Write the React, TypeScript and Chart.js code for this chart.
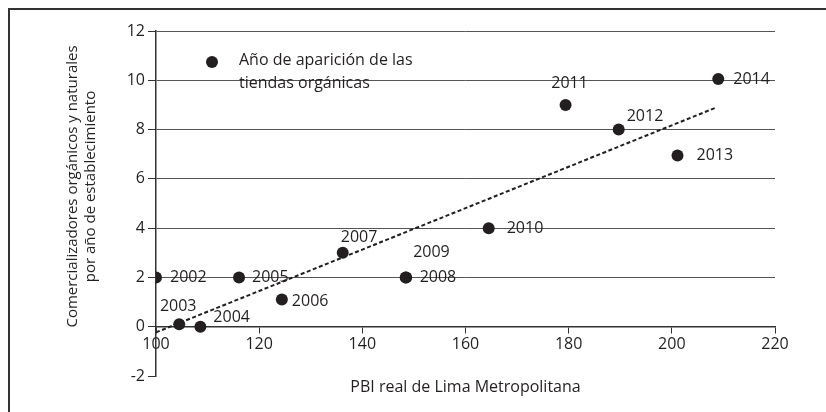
import React, { useEffect, useRef } from "react";
import { Chart, registerables } from "chart.js";

Chart.register(...registerables);

const years = ["2002", "2003", "2004", "2005", "2006", "2007", "2008", "2009", "2010", "2011", "2012", "2013", "2014"];
const pbi = [100, 104.5, 108.6, 116.1, 124.4, 136.2, 148.4, 148.5, 164.5, 179.4, 189.7, 201.1, 209];
const stores = [2, 0.1, 0, 2, 1.1, 3, 2, 2, 4, 9, 8, 6.95, 10.05];
const trendX = [100, 208.3];
const trendY = [-0.23, 8.87];
const xTicks = [100, 120, 140, 160, 180, 200, 220];
const yTicks = [-2, 0, 2, 4, 6, 8, 10, 12];

const yTitleLines = ["Comercializadores orgánicos y naturales", "por año de establecimiento"];
const xTitle = "PBI real de Lima Metropolitana";
const legendLines = ["Año de aparición de las", "tiendas orgánicas"];

// label placement (style, not data)
const labelPlacement: { dx: number; dy: number; align: CanvasTextAlign }[] = [
  { dx: 14, dy: 0, align: "left" },
  { dx: -1, dy: -18, align: "center" },
  { dx: 13, dy: -9, align: "left" },
  { dx: 13, dy: 0, align: "left" },
  { dx: 10, dy: 2, align: "left" },
  { dx: -2, dy: -15, align: "left" },
  { dx: 14, dy: 0, align: "left" },
  { dx: 7, dy: -25, align: "left" },
  { dx: 18, dy: 0, align: "left" },
  { dx: 4, dy: -21, align: "center" },
  { dx: 8, dy: -13, align: "left" },
  { dx: 19, dy: 0, align: "left" },
  { dx: 15, dy: 0, align: "left" },
];

const FONT = "'Open Sans', 'DejaVu Sans', sans-serif";
const TEXT = "#231f20";
const FS = 16;
const FS_Y = 15;

const overlay = {
  id: "overlay",
  beforeDraw(chart: any) {
    const ctx = chart.ctx;
    ctx.save();
    ctx.strokeStyle = "#333";
    ctx.lineWidth = 2;
    ctx.strokeRect(9, 9, 900, 900);
    ctx.restore();
  },
  afterDraw(chart: any) {
    const ctx = chart.ctx;
    const area = chart.chartArea;
    ctx.save();
    ctx.fillStyle = TEXT;
    ctx.font = `${FS}px ${FONT}`;
    ctx.textBaseline = "middle";
    // point labels
    const meta = chart.getDatasetMeta(0);
    meta.data.forEach((pt: any, i: number) => {
      const p = labelPlacement[i];
      ctx.textAlign = p.align;
      ctx.fillText(years[i], pt.x + p.dx, pt.y + p.dy);
    });
    // legend
    ctx.beginPath();
    ctx.arc(area.left + 56, area.top + 31, 6, 0, Math.PI * 2);
    ctx.fill();
    ctx.textAlign = "left";
    ctx.fillText(legendLines[0], area.left + 83, area.top + 29);
    ctx.fillText(legendLines[1], area.left + 83, area.top + 52);
    // x title
    ctx.textAlign = "center";
    ctx.fillText(xTitle, (area.left + area.right) / 2, area.bottom + 11);
    // y title
    ctx.font = `${FS_Y}px ${FONT}`;
    const cy = (area.top + area.bottom) / 2 - 17;
    ctx.save();
    ctx.translate(area.left - 83, cy);
    ctx.rotate(-Math.PI / 2);
    ctx.fillText(yTitleLines[0], 0, 0);
    ctx.fillText(yTitleLines[1], 0, 18);
    ctx.restore();
    ctx.restore();
  },
};

export default function App() {
  const ref = useRef<HTMLCanvasElement | null>(null);
  useEffect(() => {
    if (!ref.current) return;
    const chart = new Chart(ref.current, {
      type: "scatter",
      data: {
        datasets: [
          {
            type: "scatter",
            data: pbi.map((x, i) => ({ x, y: stores[i] })),
            backgroundColor: TEXT,
            borderColor: TEXT,
            pointRadius: 6,
            pointHoverRadius: 6,
            borderWidth: 0,
          },
          {
            type: "line",
            data: trendX.map((x, i) => ({ x, y: trendY[i] })),
            borderColor: TEXT,
            borderWidth: 2,
            borderDash: [4, 2.5],
            pointRadius: 0,
            fill: false,
          } as any,
        ],
      },
      options: {
        animation: false,
        responsive: false,
        devicePixelRatio: 1,
        layout: { padding: { left: 116, right: 51, top: 31, bottom: 36 } },
        plugins: { legend: { display: false }, tooltip: { enabled: false } },
        scales: {
          x: {
            type: "linear",
            min: 100,
            max: 220,
            position: { y: 0 } as any,
            afterFit: (s: any) => {
              s.height = 0;
            },
            afterBuildTicks: (s: any) => {
              s.ticks = xTicks.map((v) => ({ value: v }));
            },
            ticks: { color: TEXT, font: { family: FONT, size: FS }, padding: 2 },
            grid: { drawOnChartArea: false, drawTicks: true, tickLength: 6, color: "#333" },
            border: { display: true, color: "#333", width: 1.5 },
          },
          y: {
            type: "linear",
            min: -2,
            max: 12,
            position: "left",
            afterFit: (s: any) => {
              s.width = 40;
            },
            afterBuildTicks: (s: any) => {
              s.ticks = yTicks.map((v) => ({ value: v }));
            },
            ticks: { color: TEXT, font: { family: FONT, size: FS }, padding: 3 },
            grid: {
              color: (c: any) => (c.tick && c.tick.value > 0 ? "#555" : "rgba(0,0,0,0)"),
              tickColor: "#333",
              tickLength: 8,
              lineWidth: 1,
            },
            border: { display: true, color: "#333", width: 1.5 },
          },
        },
      },
      plugins: [overlay],
    });
    return () => chart.destroy();
  }, []);
  return (
    <div style={{ position: "absolute", left: 0, top: 0, width: 826, height: 412, overflow: "hidden", background: "#fff" }}>
      <canvas ref={ref} width={826} height={412} style={{ width: 826, height: 412, display: "block" }} />
    </div>
  );
}
